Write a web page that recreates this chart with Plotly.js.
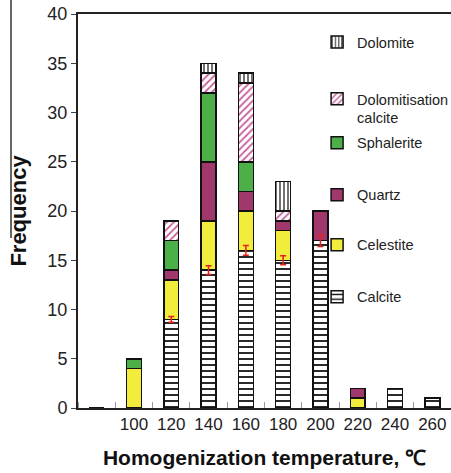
<!DOCTYPE html>
<html>
<head>
<meta charset="utf-8">
<script src="https://cdn.plot.ly/plotly-3.0.1.min.js"></script>
<style>html,body{margin:0;padding:0;background:#fff;}#chart{width:451px;height:473px;}</style>
</head>
<body>
<div id="chart"></div>
<script>
// Homogenization temperature bins (°C)
const temps = [80, 100, 120, 140, 160, 180, 200, 220, 240, 260];
const tickTemps = [100, 120, 140, 160, 180, 200, 220, 240, 260];
const tickLabels = ["100", "120", "140", "160", "180", "200", "220", "240", "260"];

// Frequency per mineral (stacked bottom to top)
const calcite       = [0, 0, 9, 14, 16, 15, 17, 0, 2, 1];
const celestite     = [0, 4, 4, 5, 4, 3, 0, 1, 0, 0];
const quartz        = [0, 0, 1, 6, 2, 1, 3, 1, 0, 0];
const sphalerite    = [0, 1, 3, 7, 3, 0, 0, 0, 0, 0];
const dolomitCalc   = [0, 0, 2, 2, 8, 1, 0, 0, 0, 0];
const dolomite      = [0, 0, 0, 1, 1, 3, 0, 0, 0, 0];

// Error bars drawn at the top of the calcite segment
const calciteErr    = [0, 0, 0.3, 0.45, 0.5, 0.45, 0.6, 0, 0, 0];

const FONT = '"Liberation Sans", Arial, sans-serif';
const BOLD = '"Liberation Sans", Arial, sans-serif';
const line = {color: '#111', width: 1.5};

function bar(name, y, marker, legendId) {
  return {type: 'bar', name: name, x: temps, y: y,
          marker: Object.assign({line: line}, marker),
          legend: legendId, hoverinfo: 'skip'};
}

const errIdx = calciteErr.map((e, i) => i).filter(i => calciteErr[i] > 0);

const traces = [
  bar('Calcite', calcite, {color: 'white', pattern: {shape: '-', fgcolor: '#111', bgcolor: 'white', size: 6, solidity: 0.3}}, 'legend6'),
  bar('Celestite', celestite, {color: '#f2ec3c'}, 'legend5'),
  bar('Quartz', quartz, {color: '#a0386c'}, 'legend4'),
  bar('Sphalerite', sphalerite, {color: '#4caf48'}, 'legend3'),
  bar('Dolomitisation<br>calcite', dolomitCalc, {color: 'white', pattern: {shape: '/', fgcolor: '#c8609c', bgcolor: 'white', size: 5, solidity: 0.35}}, 'legend2'),
  bar('Dolomite', dolomite, {color: 'white', pattern: {shape: '|', fgcolor: '#111', bgcolor: 'white', size: 4, solidity: 0.3}}, 'legend'),
  {type: 'scatter', mode: 'markers', x: errIdx.map(i => temps[i]), y: errIdx.map(i => calcite[i]), showlegend: false,
   marker: {size: 1, opacity: 0},
   error_y: {type: 'data', array: errIdx.map(i => calciteErr[i]), visible: true, color: '#e8201c', thickness: 1.5, width: 3},
   hoverinfo: 'skip'}
];

function leg(y, valign, yanchor) {
  return {x: 0.641, y: y, xanchor: 'left', yanchor: yanchor || 'middle', bgcolor: 'rgba(0,0,0,0)',
          font: {family: FONT, size: 14.5, color: '#222'}, itemwidth: 30, valign: valign || 'middle'};
}

const layout = {
  width: 451, height: 473,
  margin: {l: 78, r: 0, t: 14, b: 65, autoexpand: false},
  paper_bgcolor: 'white', plot_bgcolor: 'white',
  barmode: 'stack', bargap: 0.6,
  font: {family: FONT, size: 17, color: '#222'},
  xaxis: {
    range: [70, 270], tickmode: 'array', tickvals: tickTemps, ticktext: tickLabels, tickangle: 0,
    ticks: '', showgrid: false, zeroline: false,
    showline: true, linecolor: '#222', linewidth: 2, mirror: true,
    minor: {ticks: 'inside', ticklen: 6, tickcolor: '#999', tick0: 90, dtick: 20, showgrid: false},
    tickfont: {family: FONT, size: 17, color: '#222'},
    title: {text: 'Homogenization temperature, ℃', font: {family: BOLD, size: 21, color: '#111', weight: 'bold'}, standoff: 17},
    automargin: false
  },
  yaxis: {
    range: [0, 40], dtick: 5, ticks: 'outside', ticklen: 5, tickcolor: '#444',
    showline: true, linecolor: '#222', linewidth: 2, showgrid: false, zeroline: false,
    tickfont: {family: FONT, size: 18, color: '#222'},
    title: {text: 'Frequency', font: {family: BOLD, size: 22, color: '#111', weight: 'bold'}, standoff: 15},
    automargin: false
  },
  showlegend: true,
  legend: leg(0.929),
  legend2: leg(0.825, 'top', 'top'),
  legend3: leg(0.673),
  legend4: leg(0.541),
  legend5: leg(0.414),
  legend6: leg(0.282),
  shapes: [
    {type: 'line', xref: 'paper', yref: 'paper', x0: -0.1796, x1: -0.1796, y0: 0.4315, y1: 1.0355,
     line: {color: '#333', width: 1.5}}
  ]
};

Plotly.newPlot('chart', traces, layout, {displayModeBar: false, staticPlot: true});
</script>
</body>
</html>
